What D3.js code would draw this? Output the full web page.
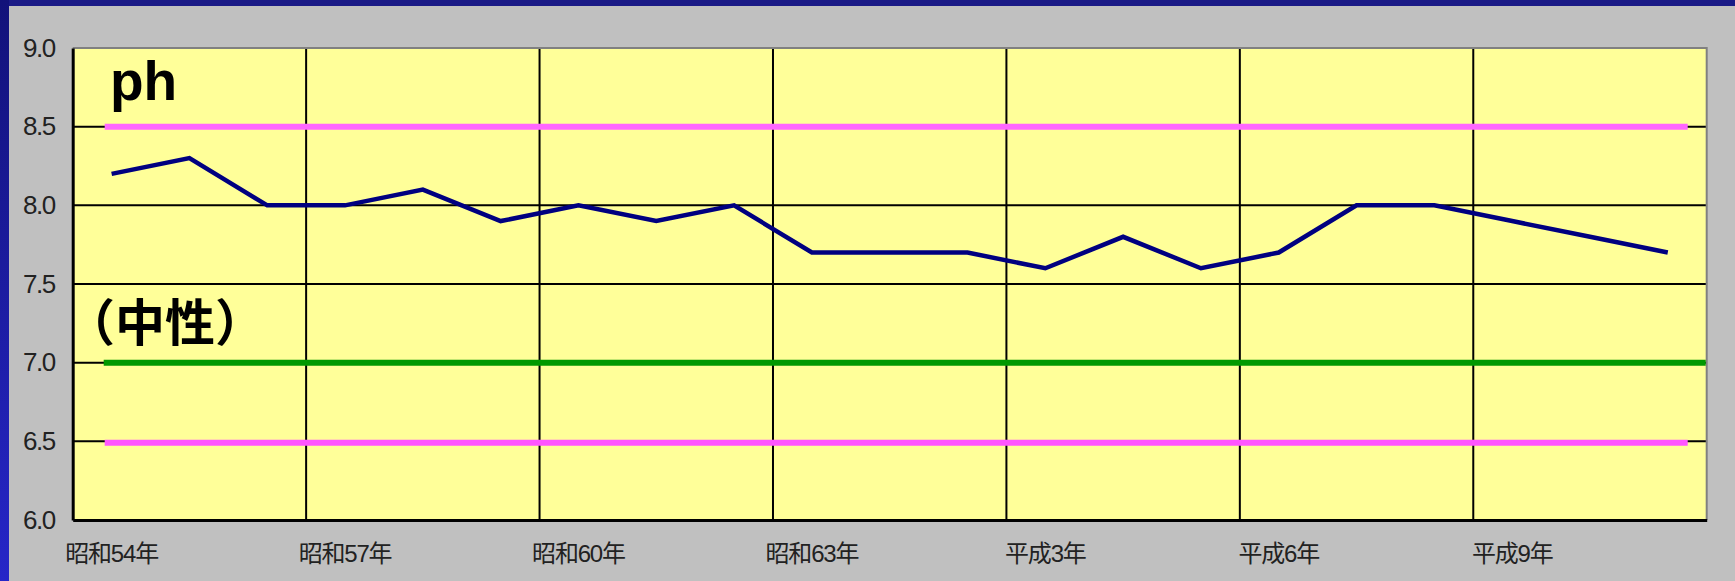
<!DOCTYPE html>
<html>
<head>
<meta charset="utf-8">
<script src="https://cdn.jsdelivr.net/npm/d3@7"></script>
<style>
  html, body { margin: 0; padding: 0; background: #c0c0c0; }
  svg { display: block; }
</style>
</head>
<body>
<div id="chart"></div>
<script>
// yearly categories, 昭和54年 .. 平成11年
const years = [
  "昭和54年", "昭和55年", "昭和56年", "昭和57年", "昭和58年", "昭和59年",
  "昭和60年", "昭和61年", "昭和62年", "昭和63年", "平成元年", "平成2年",
  "平成3年", "平成4年", "平成5年", "平成6年", "平成7年", "平成8年",
  "平成9年", "平成10年", "平成11年"
];
const phValues = [
  8.2, 8.3, 8.0, 8.0, 8.1, 7.9, 8.0, 7.9, 8.0, 7.7, 7.7,
  7.7, 7.6, 7.8, 7.6, 7.7, 8.0, 8.0, 7.9, 7.8, 7.7
];
const yTicks = [6.0, 6.5, 7.0, 7.5, 8.0, 8.5, 9.0];
const limitValues = [8.5, 6.5];
const neutralValue = 7.0;

const W = 1735, H = 581;
const margin = { top: 48, right: 28.3, bottom: 61, left: 72.7 };

const svg = d3.select("#chart").append("svg")
  .attr("width", W).attr("height", H);

// frame: navy top band and a blue gradient strip on the left
const defs = svg.append("defs");
const grad = defs.append("linearGradient")
  .attr("id", "side").attr("x1", 0).attr("y1", 0).attr("x2", 0).attr("y2", 1);
grad.append("stop").attr("offset", 0).attr("stop-color", "#12127a");
grad.append("stop").attr("offset", 1).attr("stop-color", "#2626c8");

svg.append("rect").attr("width", W).attr("height", H).attr("fill", "#c0c0c0");
svg.append("rect").attr("width", W).attr("height", 6).attr("fill", "#1a1a86");
svg.append("rect").attr("width", 9).attr("height", H).attr("fill", "url(#side)");

const x = d3.scaleBand()
  .domain(years)
  .range([margin.left, W - margin.right])
  .padding(0);

const y = d3.scaleLinear()
  .domain([6, 9])
  .range([H - margin.bottom, margin.top]);

const plotL = margin.left, plotR = W - margin.right;
const plotT = margin.top, plotB = H - margin.bottom;

svg.append("rect")
  .attr("x", plotL).attr("y", plotT)
  .attr("width", plotR - plotL).attr("height", plotB - plotT)
  .attr("fill", "#ffff99");

// gridlines
const grid = svg.append("g");
grid.selectAll("line.h")
  .data(yTicks.filter((d) => d > 6 && d < 9))
  .join("line")
  .attr("class", "h")
  .attr("x1", plotL).attr("x2", plotR)
  .attr("y1", (d) => y(d)).attr("y2", (d) => y(d))
  .attr("stroke", "#000").attr("stroke-width", 2);

const labelled = years.filter((d, i) => i % 3 === 0);
grid.selectAll("line.v")
  .data(labelled.slice(1))
  .join("line")
  .attr("class", "v")
  .attr("x1", (d) => x(d)).attr("x2", (d) => x(d))
  .attr("y1", plotT).attr("y2", plotB)
  .attr("stroke", "#000").attr("stroke-width", 2);

// top/right border in gray
svg.append("path")
  .attr("d", `M${plotL},${plotT}H${plotR}V${plotB}`)
  .attr("fill", "none").attr("stroke", "#808080").attr("stroke-width", 2);

// reference lines
const refs = svg.append("g");
refs.selectAll("line.limit")
  .data(limitValues)
  .join("line")
  .attr("class", "limit")
  .attr("x1", plotL + 32).attr("x2", plotR - 19)
  .attr("y1", (d) => y(d) + (d < 7 ? 1.5 : 0))
  .attr("y2", (d) => y(d) + (d < 7 ? 1.5 : 0))
  .attr("stroke", (d) => (d < 7 ? "#ff55ff" : "#ff66ff"))
  .attr("stroke-width", 6);

refs.append("line")
  .attr("x1", plotL + 31).attr("x2", plotR - 1)
  .attr("y1", y(neutralValue)).attr("y2", y(neutralValue))
  .attr("stroke", "#009900").attr("stroke-width", 6);

// ph series
const line = d3.line()
  .x((d, i) => x(years[i]) + x.bandwidth() / 2)
  .y((d) => y(d));

svg.append("path")
  .datum(phValues)
  .attr("d", line)
  .attr("fill", "none")
  .attr("stroke", "#000080")
  .attr("stroke-width", 4.5)
  .attr("stroke-linejoin", "miter");

// axes
const yAxis = svg.append("g")
  .attr("transform", `translate(${plotL},0)`)
  .call(d3.axisLeft(y).tickValues(yTicks).tickFormat(d3.format(".1f")).tickSize(0).tickPadding(18));
yAxis.select(".domain").attr("stroke", "#000").attr("stroke-width", 3);
yAxis.selectAll("text")
  .attr("font-family", "'Liberation Sans', Arial, sans-serif")
  .attr("font-size", 26)
  .attr("letter-spacing", -1.5)
  .attr("fill", "#222");

const xAxis = svg.append("g")
  .attr("transform", `translate(0,${plotB})`)
  .call(d3.axisBottom(x).tickValues(labelled).tickSize(0).tickPadding(25));
xAxis.select(".domain").attr("stroke", "#000").attr("stroke-width", 3);
xAxis.selectAll("text")
  .attr("font-family", "'Liberation Sans', 'Noto Sans CJK JP', sans-serif")
  .attr("font-size", 24)
  .attr("letter-spacing", -1.2)
  .attr("fill", "#222");

// text labels inside the plot
svg.append("text")
  .attr("x", 110).attr("y", 100)
  .attr("font-family", "'Liberation Sans', Arial, sans-serif")
  .attr("font-weight", "bold")
  .attr("font-size", 55)
  .attr("fill", "#000")
  .text("ph");

svg.append("text")
  .attr("x", 65).attr("y", 341)
  .attr("font-family", "'Noto Sans CJK JP', sans-serif")
  .attr("font-weight", "bold")
  .attr("font-size", 50)
  .attr("fill", "#000")
  .text("（中性）");
</script>
</body>
</html>
